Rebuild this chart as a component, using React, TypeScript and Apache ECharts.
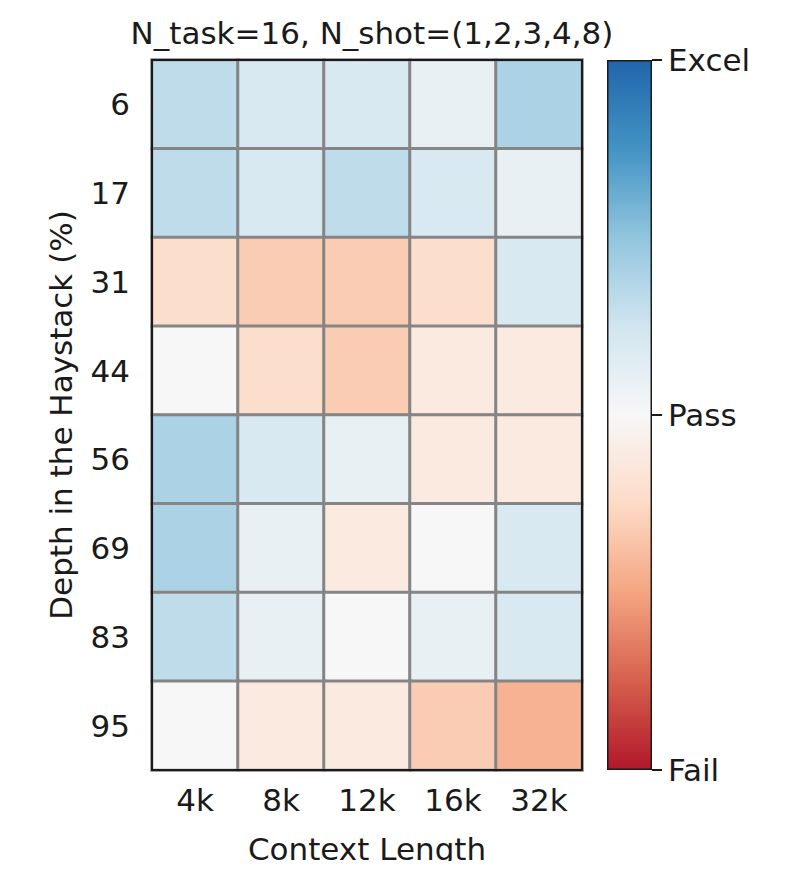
import React, { useEffect, useRef } from "react";
import * as echarts from "echarts";

const contextLengths = ["4k", "8k", "12k", "16k", "32k"];
const depths = ["6", "17", "31", "44", "56", "69", "83", "95"];

// score scale: 0 = Fail, 50 = Pass, 100 = Excel (one row per depth)
const depth6 = [66, 60, 60, 55, 70];
const depth17 = [66, 60, 66, 60, 55];
const depth31 = [39, 34, 34, 39, 60];
const depth44 = [50, 39, 34, 44, 44];
const depth56 = [70, 60, 55, 44, 44];
const depth69 = [70, 55, 44, 50, 60];
const depth83 = [66, 55, 50, 55, 60];
const depth95 = [50, 44, 44, 34, 28];
const scores = [depth6, depth17, depth31, depth44, depth56, depth69, depth83, depth95];

const colorbarLabels: Record<number, string> = { 0: "Fail", 50: "Pass", 100: "Excel" };

const rdbu = ["#b2182b", "#d6604d", "#f4a582", "#fddbc7", "#f7f7f7", "#d1e5f0", "#92c5de", "#4393c3", "#2166ac"];

const FONT = "DejaVu Sans";
const FS = 31;
const INK = "#1a1a1a";

export default function App() {
  const ref = useRef<HTMLDivElement>(null);
  useEffect(() => {
    if (!ref.current) return;
    const chart = echarts.init(ref.current, undefined, { renderer: "svg" });
    const data: number[][] = [];
    scores.forEach((row, i) => row.forEach((v, j) => data.push([j, i, v])));
    const stops = rdbu
      .slice()
      .reverse()
      .map((c, k) => ({ offset: k / (rdbu.length - 1), color: c }));
    chart.setOption({
      animation: false,
      textStyle: { fontFamily: FONT },
      title: {
        text: "N_task=16, N_shot=(1,2,3,4,8)",
        left: 367,
        textAlign: "center",
        top: 12,
        textStyle: { fontFamily: FONT, fontSize: FS, fontWeight: "normal", color: INK },
      },
      grid: [
        { left: 152, top: 60, width: 430, height: 710 },
        { left: 607, top: 60, width: 45, height: 710 },
      ],
      xAxis: [
        {
          type: "category",
          gridIndex: 0,
          data: contextLengths,
          position: "bottom",
          z: 5,
          axisLine: { lineStyle: { color: INK, width: 2 } },
          axisTick: { alignWithLabel: true, length: 10, lineStyle: { color: INK, width: 2 } },
          axisLabel: { fontSize: FS, color: INK, margin: 14, fontFamily: FONT },
          splitLine: { show: false },
          name: "Context Length",
          nameLocation: "middle",
          nameGap: 63,
          nameTextStyle: { fontSize: FS, color: INK, fontFamily: FONT },
        },
        {
          type: "category",
          gridIndex: 0,
          data: contextLengths,
          position: "top",
          z: 5,
          axisLine: { lineStyle: { color: INK, width: 2 } },
          axisTick: { show: false },
          axisLabel: { show: false },
          splitLine: { show: false },
        },
        {
          type: "category",
          gridIndex: 1,
          data: [""],
          show: false,
        },
      ],
      yAxis: [
        {
          type: "category",
          gridIndex: 0,
          data: depths,
          inverse: true,
          position: "left",
          z: 5,
          axisLine: { lineStyle: { color: INK, width: 2 } },
          axisTick: { alignWithLabel: true, length: 10, lineStyle: { color: INK, width: 2 } },
          axisLabel: { fontSize: FS, color: INK, margin: 22, fontFamily: FONT },
          splitLine: { show: false },
          name: "Depth in the Haystack (%)",
          nameLocation: "middle",
          nameGap: 76,
          nameTextStyle: { fontSize: FS, color: INK, fontFamily: FONT },
        },
        {
          type: "category",
          gridIndex: 0,
          data: depths,
          inverse: true,
          position: "right",
          z: 5,
          axisLine: { lineStyle: { color: INK, width: 2 } },
          axisTick: { show: false },
          axisLabel: { show: false },
          splitLine: { show: false },
        },
        {
          type: "value",
          gridIndex: 1,
          min: 0,
          max: 100,
          interval: 50,
          position: "right",
          axisLine: { show: false },
          axisTick: { show: true, length: 10, lineStyle: { color: INK, width: 2 } },
          axisLabel: {
            fontSize: FS,
            color: INK,
            margin: 16,
            fontFamily: FONT,
            formatter: (v: number) => colorbarLabels[v] ?? "",
          },
          splitLine: { show: false },
        },
      ],
      visualMap: {
        show: false,
        type: "continuous",
        min: 0,
        max: 100,
        seriesIndex: 0,
        inRange: { color: rdbu },
      },
      series: [
        {
          type: "heatmap",
          xAxisIndex: 0,
          yAxisIndex: 0,
          data,
          itemStyle: { borderColor: "#858585", borderWidth: 3 },
          emphasis: { disabled: true },
        },
        {
          type: "bar",
          xAxisIndex: 2,
          yAxisIndex: 2,
          data: [100],
          barWidth: "100%",
          itemStyle: {
            color: new echarts.graphic.LinearGradient(0, 0, 0, 1, stops),
            borderColor: INK,
            borderWidth: 1.5,
          },
          silent: true,
        },
      ],
    });
    return () => chart.dispose();
  }, []);
  return <div ref={ref} style={{ width: 804, height: 869, margin: -8 }} />;
}
